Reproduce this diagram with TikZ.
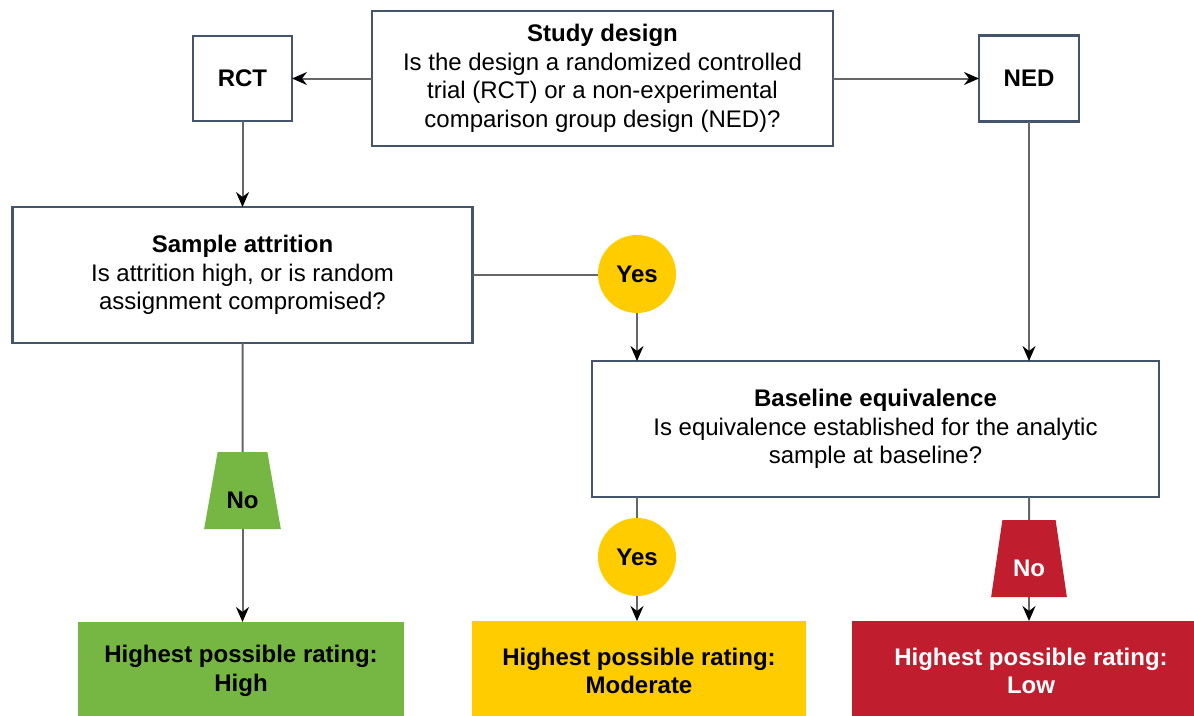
\documentclass[tikz,border=0pt]{standalone}
\usepackage{fontspec}
\setmainfont{Liberation Sans}
\usetikzlibrary{arrows.meta,shapes.geometric}
\definecolor{boxc}{HTML}{44546A}
\definecolor{linec}{HTML}{666666}
\definecolor{gcol}{HTML}{76B743}
\definecolor{ycol}{HTML}{FFCC00}
\definecolor{rcol}{HTML}{C01E2E}
\begin{document}
\begin{tikzpicture}[x=1pt,y=-1pt,
  every node/.style={font=\fontsize{24}{28.5}\selectfont, inner sep=0pt, outer sep=0pt},
  box/.style={draw=boxc, line width=2.5pt, fill=white, align=center, rectangle},
  outc/.style={rectangle, align=center, font=\fontsize{24}{28.5}\selectfont\bfseries},
  yesc/.style={circle, fill=ycol, minimum size=78pt, font=\fontsize{24}{28}\selectfont\bfseries},
  notrap/.style={trapezium, trapezium stretches=true, minimum height=77pt, inner sep=1pt,
    text height=35pt, text depth=0pt, font=\fontsize{24}{28}\selectfont\bfseries},
  conn/.style={draw=linec, line width=2pt},
  arr/.style={conn, -{Stealth[length=15pt,width=13pt,inset=5pt,color=black]}}
]
\useasboundingbox (0,0) rectangle (1194,715);
\clip (0,0) rectangle (1194,715);

\node[box, minimum width=461pt, minimum height=135pt] (sd) at (602.5,78.5)
  {\textbf{Study design}\\Is the design a randomized controlled\\trial (RCT) or a non-experimental\\comparison group design (NED)?};
\node[box, minimum width=99pt, minimum height=85pt, font=\fontsize{24}{28}\selectfont\bfseries] (rct) at (242.5,78.5) {RCT};
\node[box, minimum width=100pt, minimum height=86pt, font=\fontsize{24}{28}\selectfont\bfseries] (ned) at (1029,78.5) {NED};
\node[box, minimum width=460pt, minimum height=136pt] (sa) at (242.5,275)
  {\textbf{Sample attrition}\\Is attrition high, or is random\\assignment compromised?};
\node[box, minimum width=567pt, minimum height=136pt] (be) at (875.5,429)
  {\textbf{Baseline equivalence}\\Is equivalence established for the analytic\\sample at baseline?};

\node[yesc] (yes1) at (637,274) {Yes};
\node[yesc] (yes2) at (637,557) {Yes};

\node[notrap, fill=gcol, trapezium left angle=76, trapezium right angle=76, minimum width=77pt] (no1) at (242.5,490.5) {No};
\node[notrap, fill=rcol, text=white, trapezium left angle=79, trapezium right angle=79, minimum width=76pt] (no2) at (1029,558.5) {No};

\node[outc, fill=gcol, minimum width=326pt, minimum height=98pt] (high) at (241,671)
  {Highest possible rating:\\High};
\node[outc, fill=ycol, minimum width=334pt, minimum height=100pt] (mod) at (639,671)
  {Highest possible rating:\\Moderate};
\node[outc, fill=rcol, text=white, minimum width=358pt, minimum height=100pt] (low) at (1031,671)
  {Highest possible rating:\\Low};

\draw[arr] (sd) -- (rct);
\draw[arr] (sd) -- (ned);
\draw[arr] (rct) -- (sa);
\draw[arr] (ned.south) -- (ned.south |- be.north);
\draw[conn] (sa.east) -- (yes1.west |- sa.east);
\draw[arr] (yes1.south) -- (yes1.south |- be.north);
\draw[conn] (sa) -- (no1);
\draw[arr] (no1.south) -- (no1.south |- high.north);
\draw[conn] (yes1 |- be.south) -- (yes2);
\draw[arr] (yes2.south) -- (yes2.south |- mod.north);
\draw[conn] (ned |- be.south) -- (no2);
\draw[arr] (no2.south) -- (no2.south |- low.north);
\end{tikzpicture}
\end{document}
